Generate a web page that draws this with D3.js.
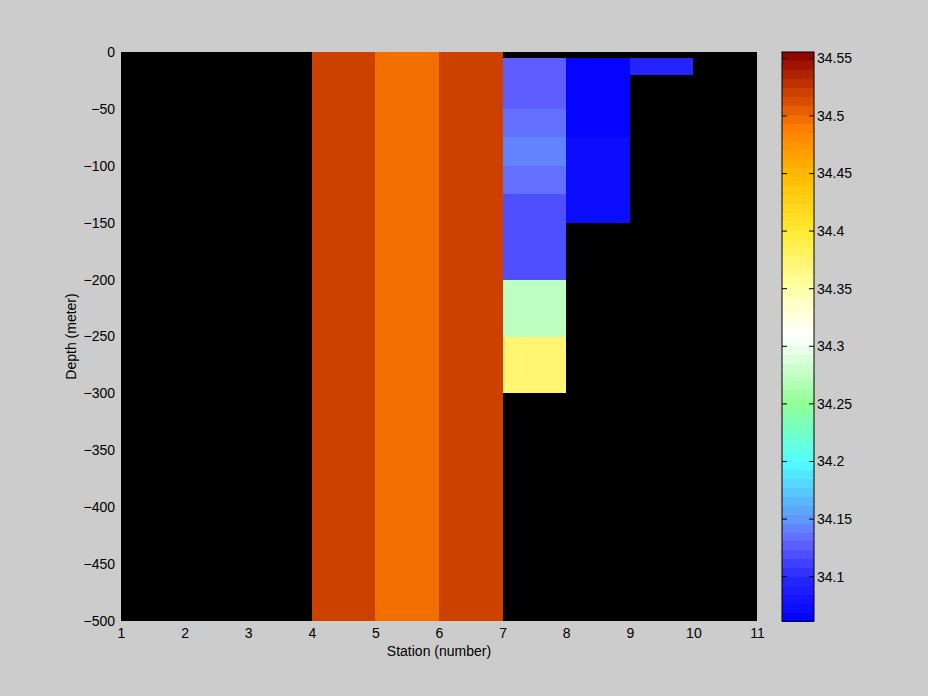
<!DOCTYPE html>
<html>
<head>
<meta charset="utf-8">
<script src="https://cdn.jsdelivr.net/npm/d3@7"></script>
<style>
html,body{margin:0;padding:0;background:#cccccc;}
svg text{font-family:"Liberation Sans",Arial,sans-serif;font-size:14px;fill:#000;}
</style>
</head>
<body>
<svg id="chart" width="928" height="696"></svg>
<script>
// ---- data ----
const stationTicks = [1,2,3,4,5,6,7,8,9,10,11];
const depthTicks = [0,-50,-100,-150,-200,-250,-300,-350,-400,-450,-500];
const colorTicks = [34.1,34.15,34.2,34.25,34.3,34.35,34.4,34.45,34.5,34.55];

// cells: station start (cell spans station..station+1), depth top, depth bottom, salinity
const cellStation = [4, 5, 6, 7, 7, 7, 7, 7, 7, 7, 8, 8, 9];
const cellTop     = [0, 0, 0, -5, -50, -75, -100, -125, -200, -250, -5, -75, -5];
const cellBottom  = [-500, -500, -500, -50, -75, -100, -125, -200, -250, -300, -75, -150, -20];
const cellValue   = [34.52, 34.498, 34.52, 34.125, 34.134, 34.142, 34.133, 34.118, 34.277, 34.375, 34.062, 34.075, 34.095];

const cMin = 34.0615, cMax = 34.5555;
// colormap anchors
const cmapValues = [34.0615, 34.10, 34.13, 34.15, 34.20, 34.25, 34.31, 34.35, 34.40, 34.45, 34.49, 34.52, 34.5555];
const cmapColors = ["#0000ff","#2828ff","#6464ff","#5f96fa","#50ffff","#91ff96","#ffffff","#ffffaa","#ffeb32","#ffb900","#ff7d00","#cd4100","#8c0000"];
const nLevels = 64;

// ---- layout ----
const svg = d3.select("#chart");
const plot = {left:121, right:757, top:52, bottom:621};
const cbar = {left:782, right:814, top:52, bottom:621};

const x = d3.scaleLinear().domain([1,11]).range([plot.left, plot.right]);
const y = d3.scaleLinear().domain([0,-500]).range([plot.top, plot.bottom]);

const interp = d3.scaleLinear().domain(cmapValues).range(cmapColors).interpolate(d3.interpolateRgb);
const levelColors = d3.range(nLevels).map(i => interp(cMin + (i + 0.5) * (cMax - cMin) / nLevels));
function colorOf(v){
  let i = Math.floor((v - cMin) / (cMax - cMin) * nLevels);
  i = Math.max(0, Math.min(nLevels - 1, i));
  return levelColors[i];
}

// axes background
svg.append("rect").attr("x",plot.left).attr("y",plot.top)
  .attr("width",plot.right-plot.left).attr("height",plot.bottom-plot.top).attr("fill","#000");

// cells
const cells = cellStation.map((s,i)=>({s, top:cellTop[i], bot:cellBottom[i], v:cellValue[i]}));
svg.append("g").selectAll("rect").data(cells).join("rect")
  .attr("x", d => x(d.s))
  .attr("y", d => y(d.top))
  .attr("width", d => x(d.s+1) - x(d.s))
  .attr("height", d => y(d.bot) - y(d.top))
  .attr("fill", d => colorOf(d.v))
  .attr("shape-rendering","crispEdges");

// x axis
const xAxis = d3.axisBottom(x).tickValues(stationTicks).tickFormat(d3.format("d")).tickSize(0).tickPadding(7);
const gx = svg.append("g").attr("transform",`translate(0,${plot.bottom})`).call(xAxis);
gx.select(".domain").remove();
gx.selectAll("text").style("font-size","14px").style("font-family","Liberation Sans, Arial, sans-serif");

// y axis
const yAxis = d3.axisLeft(y).tickValues(depthTicks).tickFormat(d3.format("d")).tickSize(0).tickPadding(6);
const gy = svg.append("g").attr("transform",`translate(${plot.left},0)`).call(yAxis);
gy.select(".domain").remove();
gy.selectAll("text").style("font-size","14px").style("font-family","Liberation Sans, Arial, sans-serif");

// axis labels
svg.append("text").attr("x",(plot.left+plot.right)/2).attr("y",656)
  .attr("text-anchor","middle").text("Station (number)");
svg.append("text").attr("transform",`translate(76,${(plot.top+plot.bottom)/2}) rotate(-90)`)
  .attr("text-anchor","middle").text("Depth (meter)");

// colorbar
const cy = d3.scaleLinear().domain([cMin,cMax]).range([cbar.bottom, cbar.top]);
const levels = d3.range(nLevels).map(i => ({
  lo: cMin + i*(cMax-cMin)/nLevels,
  hi: cMin + (i+1)*(cMax-cMin)/nLevels,
  c: levelColors[i]
}));
svg.append("g").selectAll("rect").data(levels).join("rect")
  .attr("x", cbar.left).attr("width", cbar.right-cbar.left)
  .attr("y", d => cy(d.hi)).attr("height", d => cy(d.lo)-cy(d.hi)+0.5)
  .attr("fill", d => d.c).attr("shape-rendering","crispEdges");
svg.append("rect").attr("x",cbar.left).attr("y",cbar.top)
  .attr("width",cbar.right-cbar.left).attr("height",cbar.bottom-cbar.top)
  .attr("fill","none").attr("stroke","#000").attr("stroke-width",1);
const ct = svg.append("g");
ct.selectAll("line.l").data(colorTicks).join("line").attr("class","l")
  .attr("x1",cbar.left).attr("x2",cbar.left+5)
  .attr("y1",d=>cy(d)).attr("y2",d=>cy(d)).attr("stroke","#000");
ct.selectAll("line.r").data(colorTicks).join("line").attr("class","r")
  .attr("x1",cbar.right-5).attr("x2",cbar.right)
  .attr("y1",d=>cy(d)).attr("y2",d=>cy(d)).attr("stroke","#000");
ct.selectAll("text").data(colorTicks).join("text")
  .attr("x",cbar.right+3).attr("y",d=>cy(d)).attr("dy","0.35em")
  .text(d=>d3.format("")(+d.toFixed(2)));
</script>
</body>
</html>
